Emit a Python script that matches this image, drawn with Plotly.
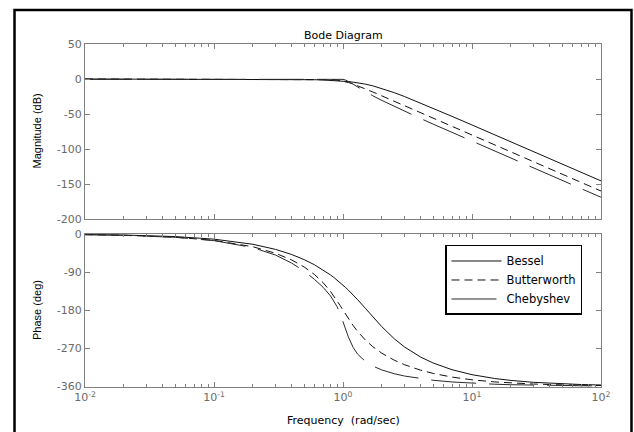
import plotly.graph_objects as go

# Frequencies (rad/sec)
freq = [0.01, 0.02, 0.05, 0.1, 0.2, 0.3, 0.4, 0.5, 0.6, 0.7, 0.8, 0.85, 0.9, 0.95,
        1.0, 1.05, 1.1, 1.2, 1.3, 1.5, 1.7, 2, 2.5, 3, 4, 5, 7, 10, 15, 20, 30, 50, 70, 100]

# Magnitude (dB)
bessel_mag = [0.0, -0.001, -0.007, -0.03, -0.11, -0.25, -0.45, -0.71, -1.02, -1.41, -1.86, -2.12,
              -2.40, -2.69, -3.01, -3.35, -3.71, -4.51, -5.39, -7.42, -9.71, -13.41, -19.52, -25.09,
              -34.43, -41.92, -53.40, -65.68, -79.71, -89.69, -103.76, -121.50, -133.19, -145.58]
butter_mag = [0.0, 0.0, 0.0, 0.0, 0.0, 0.0, -0.003, -0.017, -0.072, -0.243, -0.673, -1.047,
              -1.554, -2.210, -3.010, -3.940, -4.974, -7.243, -9.618, -14.253, -18.498, -24.099,
              -31.838, -38.17, -48.165, -55.918, -67.607, -80.0, -94.09, -104.08, -118.18, -135.92,
              -147.61, -160.0]
cheby_mag = [-0.50, -0.50, -0.48, -0.43, -0.25, -0.06, -0.003, -0.13, -0.36, -0.50, -0.36, -0.19,
             -0.03, -0.05, -0.50, -1.59, -3.27, -7.40, -11.47, -18.35, -23.89, -30.60, -39.28,
             -46.09, -56.53, -64.49, -76.36, -88.84, -102.97, -112.99, -127.09, -144.84, -156.53,
             -168.93]

# Phase (deg)
bessel_ph = [-1.21, -2.42, -6.06, -12.11, -24.22, -36.34, -48.45, -60.56, -72.67, -84.77, -96.85,
             -102.87, -108.88, -114.87, -120.84, -126.76, -132.65, -144.23, -155.51, -176.72,
             -195.67, -219.38, -248.02, -267.35, -291.19, -305.24, -321.08, -332.83, -341.91,
             -346.44, -350.96, -354.58, -356.13, -357.29]
butter_ph = [-1.50, -2.99, -7.49, -15.00, -30.11, -45.51, -61.37, -77.96, -95.67, -114.89, -135.86,
             -146.88, -158.06, -169.18, -180.0, -190.29, -199.90, -216.82, -230.77, -251.71,
             -266.49, -282.04, -298.63, -309.27, -322.23, -329.89, -338.55, -345.00, -350.01,
             -352.51, -355.01, -357.01, -357.86, -358.50]
cheby_ph = [-1.55, -3.10, -7.77, -15.64, -32.07, -49.80, -68.71, -88.05, -107.06, -125.87, -146.23,
            -158.12, -171.99, -188.38, -206.97, -226.05, -243.30, -268.66, -284.42, -302.24,
            -312.32, -321.64, -330.65, -336.07, -342.42, -346.06, -350.12, -353.11, -355.42,
            -356.57, -357.71, -358.63, -359.02, -359.31]

names = ["Bessel", "Butterworth", "Chebyshev"]
mags = [bessel_mag, butter_mag, cheby_mag]
phases = [bessel_ph, butter_ph, cheby_ph]
styles = [dict(color="#111111", width=1, dash="solid"),
          dict(color="#111111", width=1, dash="8px,5px"),
          dict(color="#2a2a2a", width=1, dash="45px,13px")]

mag_ticks = [50, 0, -50, -100, -150, -200]
mag_ticktext = ["50", "0", "-50", "-100", "-150", "-200"]
phase_ticks = [0, -90, -180, -270, -360]
phase_ticktext = ["0", "-90", "-180", "-270", "-360"]
x_tickvals = [0.01, 0.1, 1, 10, 100]
x_ticktext = ["10<sup>-2</sup>", "10<sup>-1</sup>", "10<sup>0</sup>", "10<sup>1</sup>", "10<sup>2</sup>"]
minor_vals = [m * d for d in [0.01, 0.1, 1, 10] for m in range(2, 10)]

fig = go.Figure()
for n, mg, ph, st in zip(names, mags, phases, styles):
    fig.add_trace(go.Scatter(x=freq, y=mg, mode="lines", line=st, name=n,
                             showlegend=False, xaxis="x", yaxis="y"))
    fig.add_trace(go.Scatter(x=freq, y=ph, mode="lines", line=st, name=n,
                             showlegend=True, xaxis="x2", yaxis="y2"))

hfont = "DejaVu Sans, Arial, sans-serif"
vfont = "Liberation Sans, Arial, sans-serif"
axcol = "#808080"
tickfont = dict(family=hfont, size=11, color="#6a6a6a")
common_x = dict(type="log", range=[-2, 2], showgrid=False, zeroline=False,
                showline=True, linecolor=axcol, linewidth=1, mirror="allticks",
                ticks="inside", ticklen=5, tickcolor=axcol, tickmode="array",
                tickvals=x_tickvals, ticktext=x_ticktext, tickfont=tickfont,
                minor=dict(ticks="inside", ticklen=3, tickcolor=axcol,
                           tickmode="array", tickvals=minor_vals, showgrid=False))
common_y = dict(showgrid=False, zeroline=False, showline=True, linecolor=axcol,
                linewidth=1, mirror="allticks", ticks="inside", ticklen=5,
                tickcolor=axcol, tickfont=tickfont, tickmode="array")

fig.update_layout(
    width=634, height=432,
    margin=dict(l=85, r=33, t=44, b=45),
    paper_bgcolor="white", plot_bgcolor="white",
    xaxis=dict(**common_x, domain=[0, 1], anchor="y", showticklabels=False),
    yaxis=dict(**common_y, domain=[0.4898, 1], range=[-200, 50], tickvals=mag_ticks,
               ticktext=mag_ticktext, anchor="x"),
    xaxis2=dict(**common_x, domain=[0, 1], anchor="y2", matches="x"),
    yaxis2=dict(**common_y, domain=[0, 0.446], range=[-362, 0], tickvals=phase_ticks,
                ticktext=phase_ticktext, anchor="x2"),
    legend=dict(x=0.6977, y=0.414, xanchor="left", yanchor="top",
                bgcolor="white", bordercolor="black", borderwidth=1.5,
                itemwidth=50,
                font=dict(family=hfont, size=11.5, color="black"),
                tracegroupgap=0),
    font=dict(family=hfont, size=11, color="black"),
    showlegend=True,
)

fig.add_annotation(text="Bode Diagram", xref="paper", yref="paper", x=0.5, y=1.0262,
                   xanchor="center", yanchor="middle",
                   showarrow=False, font=dict(family=hfont, size=11, color="black"))
fig.add_annotation(text="Magnitude (dB)", xref="paper", yref="paper", x=-0.093, y=0.7449,
                   xanchor="center", yanchor="middle",
                   textangle=-90, showarrow=False, font=dict(family=vfont, size=11, color="black"))
fig.add_annotation(text="Phase (deg)", xref="paper", yref="paper", x=-0.093, y=0.2245,
                   xanchor="center", yanchor="middle",
                   textangle=-90, showarrow=False, font=dict(family=vfont, size=11, color="black"))
fig.add_annotation(text="Frequency\u00a0 (rad/sec)", xref="paper", yref="paper", x=0.5,
                   y=-0.0991, xanchor="center", yanchor="middle",
                   showarrow=False, font=dict(family=hfont, size=11, color="black"))

fig.add_shape(type="rect", xref="paper", yref="paper", x0=-0.1366, x1=1.0591,
              y0=-0.17, y1=1.0991, line=dict(color="black", width=2.5), layer="above")

fig.write_html("out.html")
